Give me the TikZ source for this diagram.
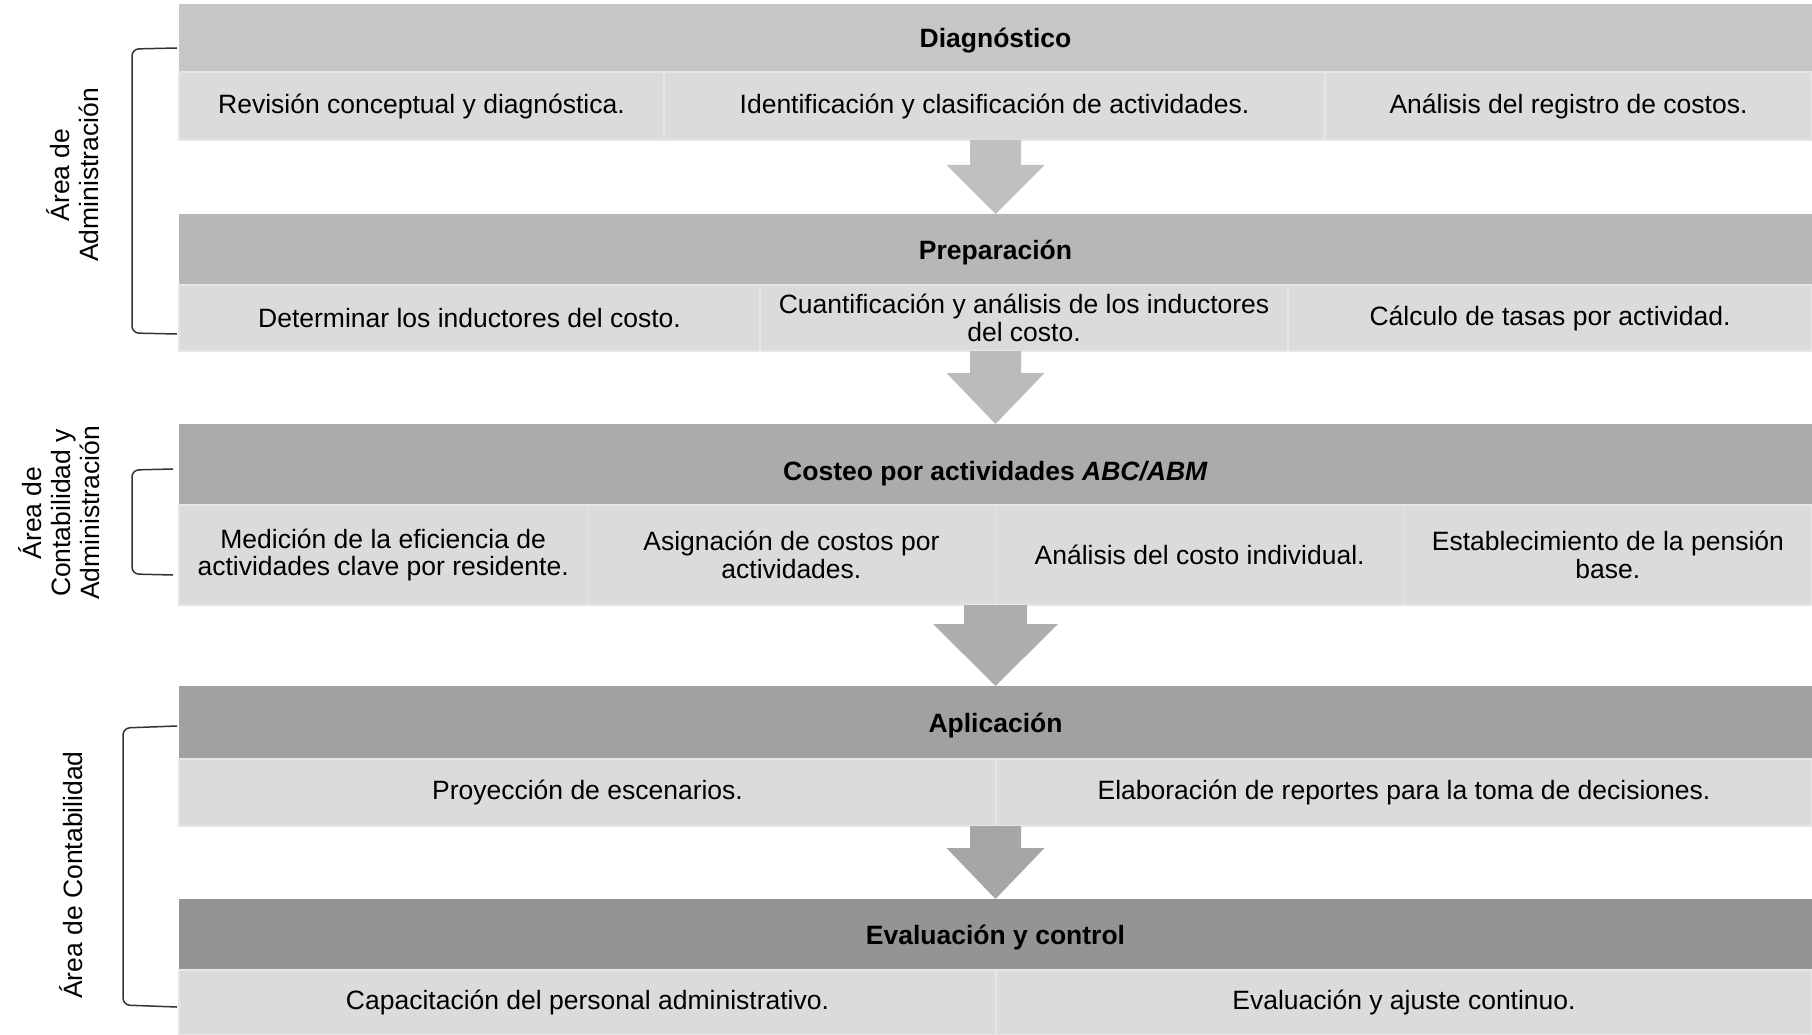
\documentclass[tikz,border=0pt]{standalone}
\usepackage{fontspec}
\setmainfont{Liberation Sans}
\usetikzlibrary{calc}

\definecolor{hdA}{HTML}{C6C6C6}
\definecolor{hdB}{HTML}{B7B7B7}
\definecolor{hdC}{HTML}{ABABAB}
\definecolor{hdD}{HTML}{A1A1A1}
\definecolor{hdE}{HTML}{949494}
\definecolor{cellfill}{HTML}{DBDBDB}
\definecolor{cellline}{HTML}{E6E6E6}
\definecolor{arrA}{HTML}{C0C0C0}
\definecolor{arrB}{HTML}{BBBBBB}
\definecolor{arrC}{HTML}{AEAEAE}
\definecolor{arrD}{HTML}{A6A6A6}

% block arrow from the cells of one stage to the header of the next
\newcommand{\stagearrow}[6]{%
  \fill[#6] ($(#2.north |- #1.south)+(-#3,0)$) -- ($(#2.north)+(-#3,-#5)$)
    -- ($(#2.north)+(-#4,-#5)$) -- (#2.north) -- ($(#2.north)+(#4,-#5)$)
    -- ($(#2.north)+(#3,-#5)$) -- ($(#2.north |- #1.south)+(#3,0)$) -- cycle;}

\begin{document}
\begin{tikzpicture}[x=1pt, y=-1pt,
  hd/.style={anchor=north west, minimum width=1633, inner sep=0, outer sep=0,
    text height=19, text depth=0, font=\bfseries\fontsize{26.5}{28}\selectfont},
  cell/.style={anchor=north west, fill=cellfill, draw=cellline, line width=1.2pt,
    inner sep=0, outer sep=0, align=center, font=\fontsize{26.5}{27.5}\selectfont},
  side/.style={rotate=90, align=center, inner sep=0, font=\fontsize{26.5}{29}\selectfont},
  brk/.style={draw=black!80, line width=1.5pt, rounded corners=7pt}]
  \useasboundingbox (0,0) rectangle (1812,1035);

  \node[hd, fill=hdA, minimum height=68] (diag) at (179,4) {Diagnóstico};
  \node[cell, minimum width=485, minimum height=68] (diag1) at (179,72) {Revisión conceptual y diagnóstica.};
  \node[cell, minimum width=661, minimum height=68] (diag2) at (664,72) {Identificación y clasificación de actividades.};
  \node[cell, minimum width=487, minimum height=68] (diag3) at (1325,72) {Análisis del registro de costos.};

  \node[hd, fill=hdB, minimum height=71] (prep) at (179,214) {Preparación};
  \node[cell, minimum width=581, minimum height=66] (prep1) at (179,285) {Determinar los inductores del costo.};
  \node[cell, minimum width=528, minimum height=66] (prep2) at (760,285) {Cuantificación y análisis de los inductores\\del costo.};
  \node[cell, minimum width=524, minimum height=66] (prep3) at (1288,285) {Cálculo de tasas por actividad.};

  \node[hd, fill=hdC, minimum height=81, text height=31] (abc) at (179,424) {Costeo por actividades \textit{ABC/ABM}};
  \foreach \t [count=\i] in {{Medición de la eficiencia de\\actividades clave por residente.},
      {Asignación de costos por\\actividades.}, {Análisis del costo individual.},
      {Establecimiento de la pensión\\base.}}
    \node[cell, minimum width=408.25, minimum height=100] (abc\i) at ({179+408.25*(\i-1)},505) {\t};

  \node[hd, fill=hdD, minimum height=73] (aplic) at (179,686) {Aplicación};
  \node[cell, minimum width=817, minimum height=67] (aplic1) at (179,759) {Proyección de escenarios.};
  \node[cell, minimum width=816, minimum height=67] (aplic2) at (996,759) {Elaboración de reportes para la toma de decisiones.};

  \node[hd, fill=hdE, minimum height=71] (eval) at (179,899) {Evaluación y control};
  \node[cell, minimum width=817, minimum height=65] (eval1) at (179,970) {Capacitación del personal administrativo.};
  \node[cell, minimum width=816, minimum height=65] (eval2) at (996,970) {Evaluación y ajuste continuo.};

  \stagearrow{diag2}{prep}{25.5}{49}{49}{arrA}
  \stagearrow{prep2}{abc}{25.5}{49}{51}{arrB}
  \stagearrow{abc2}{aplic}{31.5}{62.5}{62}{arrC}
  \stagearrow{aplic1}{eval}{25.5}{49}{51}{arrD}

  \draw[brk] (177,48) -- (132,49) -- (132,333) -- (177,334);
  \node[side] (areaA) at (73,175) {Área de\\Administración};
  \draw[brk] (173,469) -- (132,470) -- (132,574) -- (173,575);
  \node[side] (areaCA) at (59,513) {Área de\\Contabilidad y\\Administración};
  \draw[brk] (177,726) -- (123,728) -- (123,1005) -- (177,1007);
  \node[side, anchor=base] (areaC) at (82,875) {Área de Contabilidad};
\end{tikzpicture}
\end{document}
